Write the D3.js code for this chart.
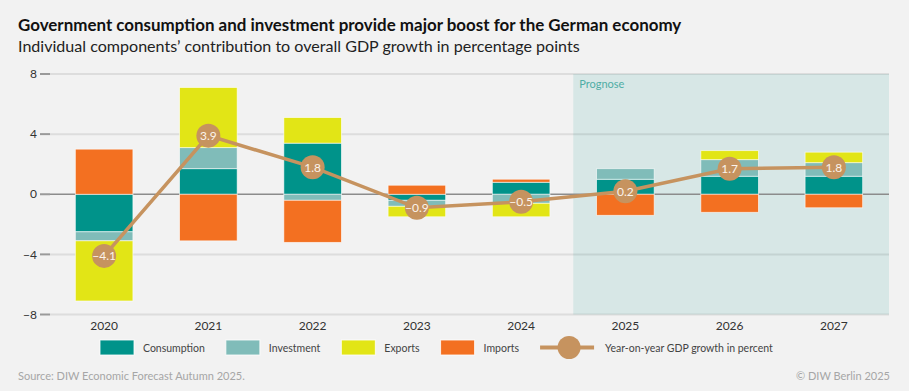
<!DOCTYPE html>
<html>
<head>
<meta charset="utf-8">
<script src="https://cdn.jsdelivr.net/npm/d3@7"></script>
<style>
  html, body { margin: 0; padding: 0; background: #f2f2f2; }
  svg { display: block; font-family: Lato, "Noto Sans", sans-serif; }
</style>
</head>
<body>
<div id="chart"></div>
<script>
// data
var years = ["2020", "2021", "2022", "2023", "2024", "2025", "2026", "2027"];
var consumption = [-2.5, 1.7, 3.4, -0.4, 0.8, 1.0, 1.2, 1.2];
var investment = [-0.6, 1.4, -0.4, -0.4, -0.6, 0.7, 1.1, 0.9];
var exportsC = [-4.0, 4.0, 1.7, -0.7, -0.9, 0.0, 0.6, 0.7];
var imports = [3.0, -3.1, -2.8, 0.6, 0.2, -1.4, -1.2, -0.9];
var gdp = [-4.1, 3.9, 1.8, -0.9, -0.5, 0.2, 1.7, 1.8];
var yTicks = [-8, -4, 0, 4, 8];
var forecastYears = ["2025", "2026", "2027"];

var seriesNames = ["Consumption", "Investment", "Exports", "Imports"];
var colors = ["#00938a", "#80bcb9", "#e2e516", "#f37021"];
var lineColor = "#c6935f";

var W = 909, H = 391;
var svg = d3.select("#chart").append("svg").attr("width", W).attr("height", H);
svg.append("rect").attr("width", W).attr("height", H).attr("fill", "#f2f2f2");

// titles, squeezed/stretched to the reference widths
function fit(sel, target) {
    var w = sel.node().getComputedTextLength();
    var fs = parseFloat(sel.attr("font-size"));
    sel.attr("font-size", (fs * target / w).toFixed(2));
}
var title = svg.append("text").attr("x", 18).attr("y", 31)
    .attr("font-size", 16.5).attr("font-weight", 700).attr("fill", "#111")
    .text("Government consumption and investment provide major boost for the German economy");
fit(title, 664);
var sub = svg.append("text").attr("x", 18).attr("y", 51.5)
    .attr("font-size", 16).attr("fill", "#222")
    .text("Individual components\u2019 contribution to overall GDP growth in percentage points");
fit(sub, 562);

var x = d3.scaleBand().domain(years).range([52, 886]).paddingInner(0.448).paddingOuter(0.224);
var y = d3.scaleLinear().domain([-8, 8]).range([314.5, 74]);
var gridLeft = 50, gridRight = 889;

// forecast shading
var fx = x(forecastYears[0]) - x.step() * x.paddingInner() / 2;
svg.append("rect").attr("x", fx).attr("y", y(8)).attr("width", gridRight - fx)
    .attr("height", y(-8) - y(8)).attr("fill", "#d7e7e6");
svg.append("text").attr("x", fx + 6).attr("y", 88).attr("font-size", 11)
    .attr("fill", "#4fada5").text("Prognose");

// grid + y axis
var grid = svg.append("g");
grid.selectAll("line.g").data(yTicks.filter(d => d !== 0)).enter().append("line")
    .attr("x1", gridLeft).attr("x2", gridRight)
    .attr("y1", d => y(d)).attr("y2", d => y(d))
    .attr("stroke", "rgba(0,0,0,0.085)").attr("stroke-width", 2);
grid.selectAll("line.t").data(yTicks).enter().append("line")
    .attr("x1", 40).attr("x2", gridLeft)
    .attr("y1", d => y(d)).attr("y2", d => y(d))
    .attr("stroke", "#9a9a9a").attr("stroke-width", 2);
grid.selectAll("text").data(yTicks).enter().append("text")
    .attr("x", 37).attr("y", d => y(d)).attr("dy", "0.35em")
    .attr("text-anchor", "end").attr("font-size", 12).attr("fill", "#333")
    .text(d => d3.format("d")(d));
grid.append("line").attr("x1", gridLeft).attr("x2", gridRight)
    .attr("y1", y(0)).attr("y2", y(0)).attr("stroke", "#8c8c8c").attr("stroke-width", 1.5);

// stacked bars
var table = years.map(function (yr, i) {
    return { year: yr, Consumption: consumption[i], Investment: investment[i], Exports: exportsC[i], Imports: imports[i] };
});
var stack = d3.stack().keys(seriesNames).offset(d3.stackOffsetDiverging)(table);
var layers = svg.append("g").selectAll("g").data(stack).enter().append("g")
    .attr("fill", (d, i) => colors[i]);
layers.selectAll("rect").data(d => d.filter(p => p[1] - p[0] !== 0)).enter().append("rect")
    .attr("x", d => x(d.data.year))
    .attr("width", x.bandwidth())
    .attr("y", d => y(Math.max(d[0], d[1])))
    .attr("height", d => Math.abs(y(d[0]) - y(d[1])))
    .attr("stroke", "rgba(255,255,255,0.7)").attr("stroke-width", 0.8);

// x labels
svg.append("g").selectAll("text").data(years).enter().append("text")
    .attr("x", d => x(d) + x.bandwidth() / 2).attr("y", 329.5)
    .attr("text-anchor", "middle").attr("font-size", 12).attr("fill", "#333")
    .text(d => d);

// GDP line
var cx = i => x(years[i]) + x.bandwidth() / 2;
var line = d3.line().x((d, i) => cx(i)).y(d => y(d));
svg.append("path").datum(gdp).attr("d", line).attr("fill", "none")
    .attr("stroke", lineColor).attr("stroke-width", 3.5);
var pts = svg.append("g").selectAll("g").data(gdp).enter().append("g")
    .attr("transform", (d, i) => "translate(" + cx(i) + "," + y(d) + ")");
pts.append("circle").attr("r", 12).attr("fill", lineColor);
pts.append("text").attr("text-anchor", "middle").attr("dy", "0.36em")
    .attr("font-size", 12).attr("fill", "#fbf4ec").text(d => d3.format(".1f")(d));

// legend
var lg = svg.append("g");
var lx = 100, ly = 340, lfs = 10.5;
seriesNames.forEach(function (name, i) {
    lg.append("rect").attr("x", lx).attr("y", ly).attr("width", 34).attr("height", 15)
        .attr("fill", colors[i]).attr("stroke", "rgba(255,255,255,0.8)").attr("stroke-width", 1);
    var t = lg.append("text").attr("x", lx + 43).attr("y", ly + 11.5).attr("font-size", lfs)
        .attr("fill", "#444").text(name);
    lx += 43 + t.node().getComputedTextLength() + 21;
});
lg.append("line").attr("x1", lx).attr("x2", lx + 54).attr("y1", ly + 7.5).attr("y2", ly + 7.5)
    .attr("stroke", lineColor).attr("stroke-width", 4);
lg.append("circle").attr("cx", lx + 29).attr("cy", ly + 7.5).attr("r", 11.5).attr("fill", lineColor);
lg.append("text").attr("x", lx + 65).attr("y", ly + 11.5).attr("font-size", lfs)
    .attr("fill", "#444").text("Year-on-year GDP growth in percent");

// footer
svg.append("text").attr("x", 18).attr("y", 380).attr("font-size", 11).attr("fill", "#a6a6a6")
    .text("Source: DIW Economic Forecast Autumn 2025.");
svg.append("text").attr("x", 890).attr("y", 380).attr("text-anchor", "end")
    .attr("font-size", 11).attr("fill", "#a6a6a6").text("\u00a9 DIW Berlin 2025");
</script>
</body>
</html>
